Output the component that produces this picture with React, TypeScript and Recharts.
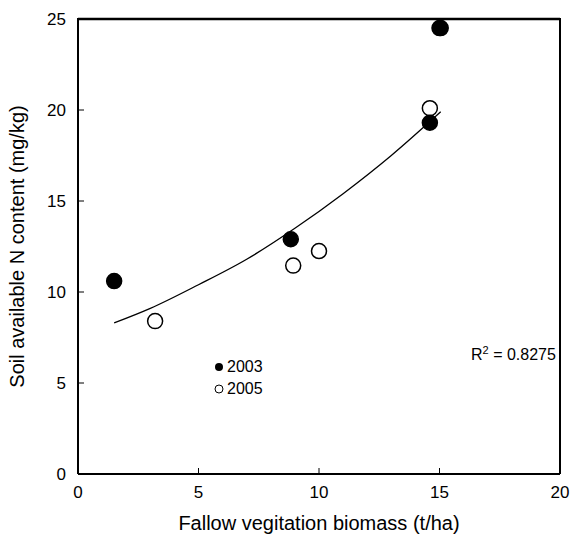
import { ComposedChart, Scatter, Line, XAxis, YAxis, ReferenceLine } from 'recharts'

// fallow biomass (t/ha) vs soil available N (mg/kg)
const biomass2003 = [1.5, 8.83, 14.6, 15.0, 15.05]
const nitrogen2003 = [10.6, 12.9, 19.3, 24.5, 24.5]
const biomass2005 = [3.2, 8.93, 10.0, 14.6]
const nitrogen2005 = [8.4, 11.45, 12.25, 20.1]

// fitted curve
const fitX = [1.5, 3, 5, 7, 9, 11, 13, 15.05]
const fitY = [8.3, 9.1, 10.4, 11.8, 13.5, 15.4, 17.5, 19.9]

const xTicks = [0, 5, 10, 15, 20]
const yTicks = [0, 5, 10, 15, 20, 25]

const data2003 = biomass2003.map((x, i) => ({ x, y: nitrogen2003[i] }))
const data2005 = biomass2005.map((x, i) => ({ x, y: nitrogen2005[i] }))
const fitData = fitX.map((x, i) => ({ x, fit: fitY[i] }))

const font = '"Liberation Sans", Arial, sans-serif'
const tickStyle = { fill: '#000', fontSize: 17, fontFamily: font }
const titleStyle = { fill: '#000', fontSize: 20, fontFamily: font }

const dot = (fill: string) => (p: any) => (
  <circle cx={p.cx} cy={p.cy} r={7.5} fill={fill} stroke="#000" strokeWidth={1.5} />
)

function LegendBox() {
  return (
    <div style={{ position: 'absolute', left: 214, top: 356, fontFamily: font, fontSize: 16, color: '#000', lineHeight: '22px' }}>
      <div style={{ display: 'flex', alignItems: 'center' }}>
        <svg width={10} height={10} style={{ marginRight: 3 }}>
          <circle cx={5} cy={5} r={4} fill="#000" />
        </svg>
        2003
      </div>
      <div style={{ display: 'flex', alignItems: 'center' }}>
        <svg width={10} height={10} style={{ marginRight: 3 }}>
          <circle cx={5} cy={5} r={4} fill="#fff" stroke="#000" strokeWidth={1} />
        </svg>
        2005
      </div>
    </div>
  )
}

export default function App() {
  return (
    <div style={{ position: 'absolute', left: 0, top: 0, width: 571, height: 534, background: '#fff' }}>
      <ComposedChart width={571} height={534} margin={{ top: 19, right: 11, bottom: 0, left: 20 }}>
        <ReferenceLine x={20} stroke="#000" strokeWidth={2} ifOverflow="visible" />
        <ReferenceLine y={25} stroke="#000" strokeWidth={2.5} ifOverflow="visible" />
        <XAxis
          type="number"
          dataKey="x"
          domain={[0, 20]}
          ticks={xTicks}
          tickSize={-6}
          tickMargin={18}
          tick={tickStyle}
          axisLine={{ stroke: '#000', strokeWidth: 2 }}
          tickLine={{ stroke: '#000', strokeWidth: 1 }}
          height={60}
          label={{ value: 'Fallow vegitation biomass (t/ha)', position: 'insideBottom', offset: 4, style: titleStyle }}
        />
        <YAxis
          type="number"
          domain={[0, 25]}
          ticks={yTicks}
          tickSize={-6}
          tickMargin={18}
          tick={tickStyle}
          axisLine={{ stroke: '#000', strokeWidth: 2 }}
          tickLine={{ stroke: '#000', strokeWidth: 1 }}
          width={58}
          label={{ value: 'Soil available N content (mg/kg)', angle: -90, position: 'insideLeft', offset: -3, style: { ...titleStyle, textAnchor: 'middle' } }}
        />
        <Line data={fitData} dataKey="fit" type="monotone" stroke="#000" strokeWidth={1.3} dot={false} isAnimationActive={false} />
        <Scatter data={data2005} dataKey="y" shape={dot('#fff')} isAnimationActive={false} />
        <Scatter data={data2003} dataKey="y" shape={dot('#000')} isAnimationActive={false} />
      </ComposedChart>
      {/* top edge of the frame */}
      <div style={{ position: 'absolute', left: 77, top: 18, width: 484, height: 2, background: '#000', pointerEvents: 'none' }} />
      <LegendBox />
      <div style={{ position: 'absolute', left: 471, top: 344, fontFamily: font, fontSize: 16, color: '#000' }}>
        R<sup style={{ fontSize: 11 }}>2</sup> = 0.8275
      </div>
    </div>
  )
}
